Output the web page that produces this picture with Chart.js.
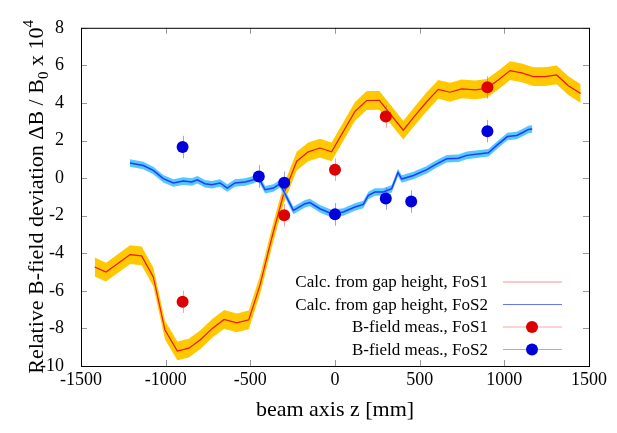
<!DOCTYPE html>
<html>
<head>
<meta charset="utf-8">
<script src="https://cdn.jsdelivr.net/npm/chart.js@4.4.1/dist/chart.umd.min.js"></script>
<style>
  body { margin: 0; background: #fff; }
  #wrap { width: 617px; height: 433px; }
</style>
</head>
<body>
<div id="wrap"><canvas id="chart" width="617" height="433"></canvas></div>
<script>
// calculated deviation from gap height, FoS1 (z in mm, value x 1e-4)
const fos1Z = [-1419, -1352, -1210, -1142, -1073, -1004, -931, -863, -795, -725, -655, -580, -509,
	-443, -374, -305, -226, -158, -89, -20, 118, 187, 262, 403, 470, 540, 610, 679, 748, 828,
	896, 964, 1034, 1103, 1171, 1240, 1309, 1378, 1451];
const fos1Val = [-4.73, -5.0, -4.07, -4.14, -5.26, -8.09, -9.2, -9.05, -8.6, -8.0, -7.52, -7.7, -7.54,
	-5.7, -3.2, -0.9, 0.9, 1.4, 1.6, 1.4, 3.55, 4.13, 4.14, 2.55, 3.3, 4.05, 4.72, 4.57, 4.75, 4.7,
	4.78, 5.22, 5.72, 5.6, 5.4, 5.4, 5.49, 4.92, 4.5];
const fos1Band = 0.5;

// calculated deviation from gap height, FoS2
const fos2Z = [-1211, -1132, -1073, -1014, -955, -896, -846, -813, -768, -728, -679, -636, -591,
	-531, -482, -453, -413, -364, -325, -246, -177, -148, -89, -20, 49, 118, 167, 197, 236, 285,
	335, 372, 394, 463, 542, 601, 660, 729, 778, 857, 906, 955, 1018, 1073, 1112, 1142, 1165];
const fos2Val = [0.80, 0.67, 0.41, -0.03, -0.26, -0.16, -0.21, -0.09, -0.30, -0.35, -0.26, -0.53, -0.26,
	-0.21, -0.09, 0.05, -0.62, -0.53, -0.30, -1.72, -1.36, -1.30, -1.63, -1.89, -1.80, -1.54, -1.40,
	-0.92, -0.74, -0.74, -0.56, 0.30, -0.05, 0.14, 0.45, 0.76, 1.03, 1.06, 1.21, 1.30, 1.35, 1.74,
	2.21, 2.27, 2.44, 2.59, 2.62];
const fos2Band = 0.2;

// B-field measurements
const meas1Z = [-900, -300, 0, 300, 900];
const meas1Val = [-6.58, -1.98, 0.45, 3.28, 4.83];
const meas1Err = [0.6, 0.6, 0.6, 0.6, 0.6];
const meas2Z = [-900, -450, -300, 0, 300, 450, 900];
const meas2Val = [1.65, 0.09, -0.25, -1.93, -1.09, -1.25, 2.50];
const meas2Err = [0.6, 0.6, 0.6, 0.6, 0.6, 0.6, 0.6];

const xTicks = [-1500, -1000, -500, 0, 500, 1000, 1500];
const yTicks = [-10, -8, -6, -4, -2, 0, 2, 4, 6, 8];

const legendLabels = ['Calc. from gap height, FoS1', 'Calc. from gap height, FoS2',
	'B-field meas., FoS1', 'B-field meas., FoS2'];

const FONT = '"Liberation Serif", "Times New Roman", serif';
const RED_LINE = 'rgb(240, 20, 20)';
const BLUE_LINE = 'rgb(30, 60, 255)';
const ORANGE = 'rgb(255, 200, 0)';
const LIGHTBLUE = 'rgb(85, 200, 255)';
const RED_DOT = 'rgb(220, 0, 0)';
const BLUE_DOT = 'rgb(0, 0, 220)';

const pts = (zs, vs, off = 0) => zs.map((z, i) => ({ x: z, y: vs[i] + off }));

const errorBars = {
	id: 'errorBars',
	beforeDatasetDraw(chart, args) {
		const ds = chart.data.datasets[args.index];
		if (!ds.errors) return;
		const { ctx, scales: { x, y } } = chart;
		ctx.save();
		ctx.strokeStyle = ds.errorColor;
		ctx.lineWidth = 1;
		ds.data.forEach((p, i) => {
			const px = Math.round(x.getPixelForValue(p.x)) + 0.5;
			ctx.beginPath();
			ctx.moveTo(px, y.getPixelForValue(p.y - ds.errors[i]));
			ctx.lineTo(px, y.getPixelForValue(p.y + ds.errors[i]));
			ctx.stroke();
		});
		ctx.restore();
	}
};

const frame = {
	id: 'frame',
	afterDraw(chart) {
		const { ctx, chartArea: a, scales: { x, y } } = chart;
		ctx.save();
		// inward ticks on all four sides
		ctx.strokeStyle = '#999';
		ctx.lineWidth = 1;
		xTicks.forEach(v => {
			const px = Math.round(x.getPixelForValue(v)) + 0.5;
			ctx.beginPath();
			ctx.moveTo(px, a.bottom); ctx.lineTo(px, a.bottom - 6);
			ctx.moveTo(px, a.top); ctx.lineTo(px, a.top + 6);
			ctx.stroke();
		});
		yTicks.forEach(v => {
			const py = Math.round(y.getPixelForValue(v)) + 0.5;
			ctx.beginPath();
			ctx.moveTo(a.left, py); ctx.lineTo(a.left + 6, py);
			ctx.moveTo(a.right, py); ctx.lineTo(a.right - 6, py);
			ctx.stroke();
		});
		ctx.strokeStyle = '#000';
		ctx.strokeRect(a.left + 0.5, a.top + 0.5, a.right - a.left, a.bottom - a.top);

		// axis titles
		ctx.fillStyle = '#000';
		ctx.font = '22px ' + FONT;
		ctx.textAlign = 'center';
		ctx.textBaseline = 'middle';
		ctx.fillText('beam axis z [mm]', (a.left + a.right) / 2, 410);

		ctx.translate(43, (a.top + a.bottom) / 2);
		ctx.rotate(-Math.PI / 2);
		ctx.textAlign = 'left';
		ctx.textBaseline = 'alphabetic';
		const parts = [
			['Relative B-field deviation \u0394B / B', 22, 0],
			['0', 15, 5],
			[' x 10', 22, 0],
			['4', 15, -10]
		];
		let total = 0;
		parts.forEach(([t, s]) => { ctx.font = s + 'px ' + FONT; total += ctx.measureText(t).width; });
		let cx = -total / 2;
		parts.forEach(([t, s, dy]) => {
			ctx.font = s + 'px ' + FONT;
			ctx.fillText(t, cx, dy);
			cx += ctx.measureText(t).width;
		});
		ctx.restore();

		// legend, gnuplot style
		ctx.save();
		ctx.font = '17px ' + FONT;
		ctx.textAlign = 'right';
		ctx.textBaseline = 'middle';
		const rows = [
			{ line: 'rgba(240, 60, 60, 0.55)', dot: null },
			{ line: 'rgba(40, 60, 255, 0.7)', dot: null },
			{ line: 'rgba(240, 60, 60, 0.45)', dot: RED_DOT },
			{ line: 'rgba(60, 60, 255, 0.45)', dot: BLUE_DOT }
		];
		rows.forEach((r, i) => {
			const ly = 282 + i * 22.5;
			ctx.fillStyle = '#000';
			ctx.fillText(legendLabels[i], 488, ly + 1);
			ctx.strokeStyle = r.line;
			ctx.lineWidth = 1.2;
			ctx.beginPath();
			ctx.moveTo(503, ly); ctx.lineTo(562, ly);
			ctx.stroke();
			if (r.dot) {
				ctx.fillStyle = r.dot;
				ctx.beginPath();
				ctx.arc(532, ly, 6, 0, Math.PI * 2);
				ctx.fill();
			}
		});
		ctx.restore();
	}
};

new Chart(document.getElementById('chart'), {
	type: 'line',
	data: {
		datasets: [
			{ data: pts(meas1Z, meas1Val), showLine: false, pointRadius: 6, pointBackgroundColor: RED_DOT,
				pointBorderWidth: 0, errors: meas1Err, errorColor: 'rgba(235, 90, 90, 0.55)', order: 1 },
			{ data: pts(meas2Z, meas2Val), showLine: false, pointRadius: 6, pointBackgroundColor: BLUE_DOT,
				pointBorderWidth: 0, errors: meas2Err, errorColor: 'rgba(80, 80, 240, 0.55)', order: 1 },
			{ data: pts(fos2Z, fos2Val), borderColor: BLUE_LINE, borderWidth: 1.5, pointRadius: 0, order: 3 },
			{ data: pts(fos2Z, fos2Val, fos2Band), borderWidth: 0, pointRadius: 0, backgroundColor: LIGHTBLUE,
				fill: '+1', order: 4 },
			{ data: pts(fos2Z, fos2Val, -fos2Band), borderWidth: 0, pointRadius: 0, order: 4 },
			{ data: pts(fos1Z, fos1Val), borderColor: RED_LINE, borderWidth: 1.2, pointRadius: 0, order: 5 },
			{ data: pts(fos1Z, fos1Val, fos1Band), borderWidth: 0, pointRadius: 0, backgroundColor: ORANGE,
				fill: '+1', order: 6 },
			{ data: pts(fos1Z, fos1Val, -fos1Band), borderWidth: 0, pointRadius: 0, order: 6 }
		]
	},
	options: {
		responsive: false,
		animation: false,
		layout: { padding: { top: 27, right: 28, left: 0, bottom: 0 } },
		elements: { line: { tension: 0 } },
		plugins: { legend: { display: false }, tooltip: { enabled: false } },
		scales: {
			x: {
				type: 'linear', min: -1500, max: 1500,
				grid: { display: false, drawTicks: false }, border: { display: false },
				afterFit: s => { s.height = 67; },
				afterBuildTicks: s => { s.ticks = xTicks.map(v => ({ value: v })); },
				ticks: { color: '#000', padding: 3, maxRotation: 0, callback: v => String(v),
					font: { family: FONT, size: 18 } }
			},
			y: {
				type: 'linear', min: -10, max: 8,
				grid: { display: false, drawTicks: false }, border: { display: false },
				afterFit: s => { s.width = 81; },
				afterBuildTicks: s => { s.ticks = yTicks.map(v => ({ value: v })); },
				ticks: { color: '#000', padding: 17, callback: v => String(v),
					font: { family: FONT, size: 18 } }
			}
		}
	},
	plugins: [errorBars, frame]
});
</script>
</body>
</html>
